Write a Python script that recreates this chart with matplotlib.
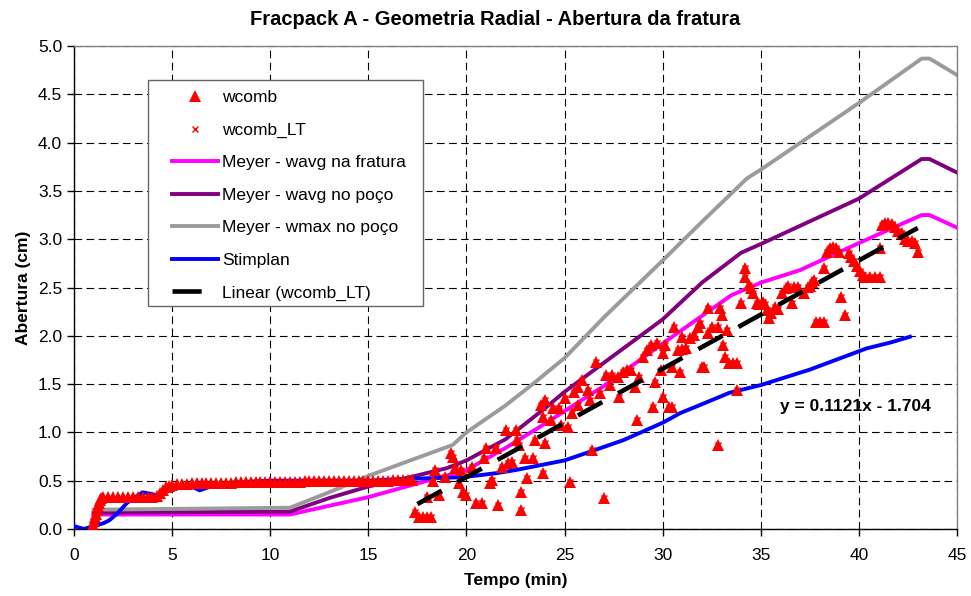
import matplotlib
matplotlib.use("Agg")
import matplotlib.pyplot as plt
from matplotlib.patches import Rectangle
from matplotlib.lines import Line2D

plt.rcParams['font.family'] = ['Liberation Sans', 'DejaVu Sans']
plt.rcParams['lines.scale_dashes'] = False

# ---------------- data ----------------
title = "Fracpack A - Geometria Radial - Abertura da fratura"
xlabel = "Tempo (min)"
ylabel = "Abertura (cm)"

# wcomb (early dense part)
wcomb_early_t = [0.90, 0.95, 1.00, 1.05, 1.10, 1.15, 1.20, 1.25, 1.30, 1.40, 1.50,
                 1.75, 2.00, 2.25, 2.50, 2.75, 3.00, 3.25, 3.50, 3.75, 4.00, 4.25,
                 4.40, 4.55, 4.70, 4.85, 5.00, 5.25, 5.50, 5.75, 6.00, 6.25, 6.50,
                 6.75, 7.00, 7.25, 7.50, 7.75, 8.00, 8.25, 8.50, 8.75, 9.00, 9.25,
                 9.50, 9.75, 10.00, 10.25, 10.50, 10.75, 11.00, 11.25, 11.50, 11.75,
                 12.00, 12.25, 12.50, 12.75, 13.00, 13.25, 13.50, 13.75, 14.00,
                 14.25, 14.50, 14.75, 15.00, 15.25, 15.50, 15.75, 16.00, 16.25,
                 16.50, 16.75, 17.00, 17.25]
wcomb_early_v = [0.00, 0.04, 0.08, 0.12, 0.16, 0.20, 0.24, 0.27, 0.30, 0.32, 0.33,
                 0.33, 0.33, 0.33, 0.33, 0.33, 0.33, 0.33, 0.33, 0.33, 0.33, 0.34,
                 0.37, 0.40, 0.43, 0.45, 0.46, 0.47, 0.47, 0.47, 0.48, 0.48, 0.48,
                 0.48, 0.48, 0.48, 0.48, 0.48, 0.48, 0.49, 0.49, 0.49, 0.49, 0.49,
                 0.49, 0.49, 0.49, 0.49, 0.49, 0.49, 0.49, 0.49, 0.49, 0.50, 0.50,
                 0.50, 0.50, 0.50, 0.50, 0.50, 0.50, 0.50, 0.50, 0.50, 0.50, 0.50,
                 0.50, 0.50, 0.50, 0.50, 0.50, 0.51, 0.51, 0.51, 0.51, 0.51]

# wcomb_LT (scattered late part)
wcomb_lt_t = [17.4, 17.6, 17.8, 18.0, 18.2, 18.0, 18.3, 18.4, 18.6, 18.9, 19.2, 19.3,
              19.4, 19.6, 19.7, 19.8, 20.0, 20.3, 20.5, 20.8, 20.9, 21.0, 21.2, 21.3,
              21.5, 21.6, 21.8, 22.0, 22.1, 22.3, 22.5, 22.6, 22.7, 22.8, 22.8, 23.0,
              23.1, 23.4, 23.5, 23.8, 23.9, 23.9, 24.0, 24.0, 24.3, 24.4, 24.7, 24.8,
              25.0, 25.2, 25.3, 25.4, 25.5, 25.7, 25.7, 25.9, 26.2, 26.3, 26.4, 26.6,
              26.8, 27.0, 27.1, 27.3, 27.4, 27.7, 27.8, 28.0, 28.2, 28.4, 28.6, 28.7,
              28.8, 29.0, 29.2, 29.4, 29.5, 29.6, 29.7, 29.9, 30.0, 30.0, 30.1, 30.3,
              30.5, 30.5, 30.6, 30.8, 30.9, 31.0, 31.0, 31.2, 31.4, 31.6, 31.8, 31.9,
              32.0, 32.1, 32.3, 32.3, 32.5, 32.8, 32.8, 32.9, 33.0, 33.1, 33.2, 33.3,
              33.4, 33.6, 33.8, 33.8, 34.0, 34.2, 34.2, 34.4, 34.5, 34.6, 34.8, 34.9,
              35.1, 35.2, 35.3, 35.4, 35.5, 35.7, 35.9, 36.1, 36.3, 36.4, 36.6, 36.7,
              36.9, 37.2, 37.4, 37.5, 37.6, 37.7, 37.8, 38.0, 38.2, 38.2, 38.4, 38.55,
              38.7, 38.85, 39.0, 39.1, 39.3, 39.5, 39.6, 39.75, 39.9, 40.05, 40.2, 40.3,
              40.55, 40.8, 41.1, 41.1, 41.2, 41.35, 41.5, 41.7, 41.85, 42.0, 42.2,
              42.35, 42.5, 42.7, 42.85, 43.0]
wcomb_lt_v = [0.18, 0.12, 0.12, 0.12, 0.12, 0.33, 0.50, 0.61, 0.35, 0.54, 0.79, 0.75,
              0.63, 0.48, 0.61, 0.38, 0.35, 0.64, 0.27, 0.27, 0.73, 0.84, 0.48, 0.51,
              0.84, 0.25, 0.64, 1.02, 0.68, 0.69, 1.02, 0.92, 0.87, 0.38, 0.20, 0.73,
              0.53, 0.73, 0.92, 1.28, 1.16, 0.58, 1.34, 0.89, 1.13, 1.25, 1.25, 1.08,
              1.36, 1.06, 0.49, 1.20, 1.42, 1.28, 1.47, 1.54, 1.44, 1.34, 0.82, 1.73,
              1.41, 0.32, 1.59, 1.49, 1.59, 1.57, 1.37, 1.63, 1.65, 1.65, 1.47, 1.13,
              1.57, 1.78, 1.85, 1.90, 1.26, 1.52, 1.93, 1.65, 1.37, 1.82, 1.90, 1.26,
              1.26, 1.68, 2.09, 1.85, 1.63, 1.86, 1.99, 1.87, 1.98, 2.01, 2.09, 2.13,
              1.68, 1.68, 2.03, 2.29, 2.09, 2.09, 0.87, 2.29, 2.22, 1.90, 1.78, 2.06,
              1.72, 1.72, 1.72, 1.44, 2.34, 2.70, 2.61, 2.53, 2.50, 2.44, 2.34, 2.33,
              2.35, 2.33, 2.27, 2.18, 2.24, 2.30, 2.28, 2.44, 2.50, 2.52, 2.34, 2.51,
              2.51, 2.44, 2.51, 2.52, 2.56, 2.58, 2.14, 2.14, 2.14, 2.70, 2.87, 2.91,
              2.92, 2.91, 2.87, 2.40, 2.22, 2.86, 2.82, 2.77, 2.72, 2.67, 2.63, 2.61,
              2.61, 2.61, 2.61, 2.91, 3.15, 3.17, 3.17, 3.16, 3.13, 3.08, 3.06,
              3.00, 2.98, 2.98, 2.96, 2.87]

# Meyer curves
meyer_frat_t = [1.0, 11.0, 15.0, 17.3, 20.0, 22.0, 24.0, 27.0, 30.0, 33.5, 35.0, 37.0,
                40.0, 43.2, 43.6, 45.0]
meyer_frat_v = [0.15, 0.15, 0.33, 0.46, 0.61, 0.84, 1.09, 1.48, 1.92, 2.42, 2.55, 2.68,
                2.96, 3.25, 3.25, 3.12]

meyer_poco_t = [1.0, 11.0, 13.0, 15.0, 17.0, 19.0, 20.0, 22.0, 24.0, 25.0, 27.0, 30.0,
                32.0, 34.0, 35.0, 40.0, 43.2, 43.6, 45.0]
meyer_poco_v = [0.17, 0.18, 0.32, 0.44, 0.53, 0.63, 0.71, 0.93, 1.25, 1.42, 1.72, 2.17,
                2.55, 2.86, 2.95, 3.42, 3.83, 3.83, 3.69]

meyer_max_t = [1.0, 11.0, 12.0, 13.0, 15.0, 17.0, 19.3, 20.0, 22.0, 23.5, 25.0, 27.0,
               30.0, 32.0, 34.3, 35.0, 40.0, 43.2, 43.6, 45.0]
meyer_max_v = [0.20, 0.22, 0.30, 0.38, 0.55, 0.70, 0.87, 1.00, 1.28, 1.52, 1.77, 2.19,
               2.78, 3.18, 3.63, 3.72, 4.41, 4.87, 4.87, 4.70]

stimplan_t = [0.0, 0.5, 1.0, 1.5, 1.8, 2.2, 2.7, 3.0, 3.5, 4.0, 4.4, 4.9, 5.5, 6.0,
              6.4, 7.1, 8.0, 10.0, 12.0, 15.0, 17.0, 19.0, 20.0, 21.6, 22.5, 23.75,
              25.0, 26.3, 28.0, 30.0, 30.9, 32.1, 33.4, 35.0, 37.5, 40.4, 41.6, 42.6]
stimplan_v = [0.03, 0.00, 0.03, 0.06, 0.09, 0.16, 0.27, 0.31, 0.38, 0.36, 0.33, 0.44,
              0.45, 0.44, 0.40, 0.45, 0.48, 0.50, 0.50, 0.50, 0.52, 0.53, 0.54, 0.58,
              0.61, 0.66, 0.71, 0.80, 0.92, 1.10, 1.20, 1.30, 1.41, 1.49, 1.65, 1.87,
              1.93, 1.99]

trend_slope = 0.1121
trend_intercept = -1.704
trend_range = [17.5, 43.0]
trend_label = "y = 0.1121x - 1.704"

legend_labels = ["wcomb", "wcomb_LT", "Meyer - wavg na fratura", "Meyer - wavg no poço",
                 "Meyer - wmax no poço", "Stimplan", "Linear (wcomb_LT)"]

x_ticks = [0, 5, 10, 15, 20, 25, 30, 35, 40, 45]
y_ticks = [0.0, 0.5, 1.0, 1.5, 2.0, 2.5, 3.0, 3.5, 4.0, 4.5, 5.0]

# ---------------- plot ----------------
W, H = 971, 596
fig = plt.figure(figsize=(W/100, H/100), dpi=100)
ax = fig.add_axes([74/W, 67/H, 883/W, 483/H])

def ax_fx(px):
    return (px - 74) / 883.0

def ax_fy(py):
    return (529 - py) / 483.0

fs = 12.5
lw = 2.8
h_mf, = ax.plot(meyer_frat_t, meyer_frat_v, color='#FF00FF', lw=lw, zorder=3)
h_mp, = ax.plot(meyer_poco_t, meyer_poco_v, color='#800080', lw=lw, zorder=3)
h_mm, = ax.plot(meyer_max_t, meyer_max_v, color='#9B9B9B', lw=lw, zorder=3)
h_st, = ax.plot(stimplan_t, stimplan_v, color='#0000FF', lw=lw, zorder=3)

h_lt, = ax.plot(wcomb_lt_t, wcomb_lt_v, ls='none', marker='x', color='#FF0000',
                ms=4.5, mew=1, zorder=4)
wcomb_t = wcomb_early_t + wcomb_lt_t
wcomb_v = wcomb_early_v + wcomb_lt_v
h_wc, = ax.plot(wcomb_t, wcomb_v, ls='none', marker='^', color='#FF0000',
                ms=8, mew=0, zorder=5)

tr_x = trend_range
tr_y = [trend_slope * x + trend_intercept for x in tr_x]
ax.plot(tr_x, tr_y, color='black', lw=3.3, dashes=(20, 13), zorder=6,
        solid_capstyle='butt', dash_capstyle='butt')
# legend proxy: only the first dash of the trend line is visible in the key
h_tr = Line2D([], [], color='black', lw=3.3, dashes=(21, 40),
              dash_capstyle='butt')

ax.text(36.0, 1.27, trend_label, fontsize=fs, fontweight='bold', ha='left',
        va='center', zorder=7)

ax.set_xlim(0, 45)
ax.set_ylim(0, 5)
ax.set_xticks(x_ticks)
ax.set_yticks(y_ticks)
ax.set_xticklabels([str(v) for v in x_ticks])
ax.set_yticklabels([f"{v:.1f}" for v in y_ticks])
ax.tick_params(axis='both', direction='out', length=5, width=1, labelsize=fs,
               colors='black')
ax.tick_params(axis='x', pad=9)
ax.tick_params(axis='y', pad=3.5)

ax.grid(True, color='black', lw=0.8, linestyle=(0, (5.5, 3.2)))
ax.set_axisbelow(True)
for s in ['top', 'right']:
    ax.spines[s].set_color('#808080')
    ax.spines[s].set_linewidth(1.0)
for s in ['left', 'bottom']:
    ax.spines[s].set_color('black')
    ax.spines[s].set_linewidth(1.0)

ax.set_xlabel(xlabel, fontsize=fs, fontweight='bold', labelpad=7)
ax.set_ylabel(ylabel, fontsize=fs, fontweight='bold', labelpad=5)
fig.text(495/W, 1 - 19.5/H, title, fontsize=14.5, fontweight='bold',
         ha='center', va='center')

# legend frame drawn as a rectangle, legend itself without frame
frame = Rectangle((ax_fx(148), ax_fy(306)), ax_fx(423) - ax_fx(148),
                  ax_fy(80) - ax_fy(306), transform=ax.transAxes,
                  facecolor='white', edgecolor='#666666', lw=1.0, zorder=9)
ax.add_patch(frame)

leg = ax.legend([h_wc, h_lt, h_mf, h_mp, h_mm, h_st, h_tr], legend_labels,
                loc='upper left', bbox_to_anchor=(ax_fx(172), ax_fy(90)),
                fontsize=fs, frameon=False, numpoints=1,
                handlelength=2.65, handletextpad=0.23, labelspacing=1.0,
                borderpad=0, borderaxespad=0)
leg.set_zorder(10)

fig.savefig("out.png", dpi=100)
